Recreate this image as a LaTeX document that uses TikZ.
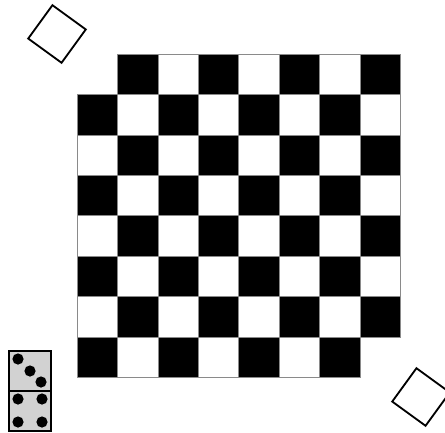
\documentclass[tikz,border=0pt]{standalone}
\usetikzlibrary{positioning}
\definecolor{cgrey}{HTML}{8A8A8A}
\definecolor{cpip}{HTML}{D2D2D2}
\tikzset{
  every picture/.style={x=0.025cm, y=-0.025cm},
  cellblack/.style={fill=black, draw=cgrey, line width=0.3pt},
  cellwhite/.style={fill=white, draw=cgrey, line width=0.3pt},
  tile/.style={draw=black, fill=white, line width=1.3pt, minimum size=1.03cm, inner sep=0pt, rotate=-36},
  domino/.style={draw=black, fill=cpip, line width=1.1pt},
  pip/.style={fill=black, circle, inner sep=0pt, minimum size=0.28cm},
}

\begin{document}
\begin{tikzpicture}
  \useasboundingbox (0,0) rectangle (445,432);
  % the board: 8 x 8 with two opposite corners taken away
  \foreach \r in {0,...,7} {
    \foreach \c in {0,...,7} {
      \ifnum\numexpr\r+\c\relax=0 \else\ifnum\numexpr\r+\c\relax=14 \else
        \ifodd\numexpr\r+\c\relax
          \draw[cellblack] ({77+40.4*\c},{54+40.4*\r}) rectangle ++(40.4,40.4);
        \else
          \draw[cellwhite] ({77+40.4*\c},{54+40.4*\r}) rectangle ++(40.4,40.4);
        \fi
      \fi\fi
    }
  }
  % the two removed corner squares
  \node[tile] (cornerA) at (57,34) {};
  \node[tile] (cornerB) at (421,397) {};
  % a domino
  \draw[domino] (9,351) rectangle (51,431);
  \draw[line width=1.1pt] (9,391) -- (51,391);
  \node[pip] (p1) at (18,359) {};
  \node[pip] (p2) at (30,371) {};
  \node[pip] (p3) at (41,382) {};
  \node[pip] (p4) at (18,399) {};
  \node[pip] (p5) at (42,399) {};
  \node[pip] (p6) at (18,422) {};
  \node[pip] (p7) at (42,422) {};
\end{tikzpicture}
\end{document}
